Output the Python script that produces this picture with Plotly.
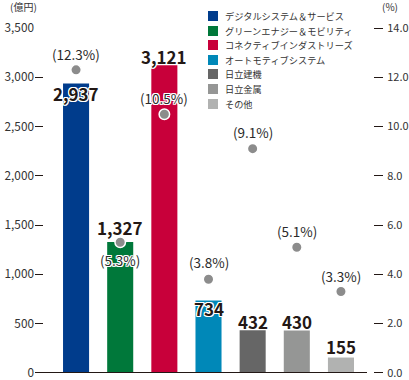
import plotly.graph_objects as go

categories = ["デジタルシステム＆サービス", "グリーンエナジー＆モビリティ", "コネクティブインダストリーズ",
              "オートモティブシステム", "日立建機", "日立金属", "その他"]
values = [2937, 1327, 3121, 734, 432, 430, 155]
margins_pct = [12.3, 5.3, 10.5, 3.8, 9.1, 5.1, 3.3]
left_ticks = [0, 500, 1000, 1500, 2000, 2500, 3000, 3500]
right_ticks = [0, 2, 4, 6, 8, 10, 12, 14]

colors = ["#003C8C", "#00783A", "#C8003A", "#0088B8", "#666666", "#959695", "#B1B2B1"]
value_shift = [-10, 15, 9, -8, 9, 9, 11]
pct_shift = [16, -18, 16, 17, 17, 16, 16]

W, H = 409, 380
ML, MR, MT, MB = 35, 4, 28, 7
PW, PH = W - ML - MR, H - MT - MB


def px(x):
    return (x - ML) / PW


def py(y):
    return (H - MB - y) / PH


FONT = "Noto Sans CJK JP, Noto Sans, sans-serif"
TXT = "#231815"
halo = "1px 1px 0 #fff, -1px -1px 0 #fff, 1px -1px 0 #fff, -1px 1px 0 #fff, 0 1px 0 #fff, 0 -1px 0 #fff, 1px 0 0 #fff, -1px 0 0 #fff"

xs = list(range(len(categories)))
fig = go.Figure()
fig.add_trace(go.Bar(x=xs, y=values, marker=dict(color=colors, line=dict(width=0)),
                     width=0.59, showlegend=False, hoverinfo="skip"))
fig.add_trace(go.Scatter(x=xs, y=margins_pct, yaxis="y2", mode="markers",
                         marker=dict(size=10.5, color="#8C8C8C", line=dict(color="#fff", width=1.5)),
                         showlegend=False, hoverinfo="skip"))

ann = []
for i, v in enumerate(values):
    ann.append(dict(x=i, y=v, xref="x", yref="y", text=f"{v:,}", showarrow=False,
                    yshift=value_shift[i],
                    font=dict(family=FONT, size=17, color=TXT, weight="bold", shadow=halo)))
for i, p in enumerate(margins_pct):
    ann.append(dict(x=i, y=p, xref="x", yref="y2", text=f"({p}%)", showarrow=False,
                    yshift=pct_shift[i],
                    font=dict(family=FONT, size=13.5, color="#2a2a2a", shadow=halo)))

shapes = []
# baseline
shapes.append(dict(type="line", xref="paper", yref="y", x0=0, x1=px(367), y0=0, y1=0,
                   line=dict(color=TXT, width=1.5), layer="above"))
row_y = [16, 31, 45, 60, 74, 89, 104]
for i, name in enumerate(categories):
    y = row_y[i]
    shapes.append(dict(type="rect", xref="paper", yref="paper",
                       x0=px(208), x1=px(218), y0=py(y + 5), y1=py(y - 5),
                       fillcolor=colors[i], line=dict(width=0)))
    ann.append(dict(x=px(223), y=py(y), xref="paper", yref="paper", text=name,
                    showarrow=False, xanchor="left", yanchor="middle",
                    font=dict(family=FONT, size=9.2, color="#333")))

ann.append(dict(x=px(8), y=py(7), xref="paper", yref="paper", text="(億円)", showarrow=False,
                xanchor="left", yanchor="middle", font=dict(family=FONT, size=10, color="#333")))
ann.append(dict(x=px(380), y=py(7), xref="paper", yref="paper", text="(%)", showarrow=False,
                xanchor="left", yanchor="middle", font=dict(family=FONT, size=10, color="#333")))

fig.update_layout(
    width=W, height=H, margin=dict(l=ML, r=MR, t=MT, b=MB),
    paper_bgcolor="#fff", plot_bgcolor="#fff",
    annotations=ann, shapes=shapes, showlegend=False,
    xaxis=dict(domain=[0, px(367)], range=[-0.93, 6.59], showticklabels=False, ticks="",
               showgrid=False, zeroline=False, showline=False, fixedrange=True),
    yaxis=dict(range=[-2, 3500], tickvals=left_ticks, ticktext=[f"{t:,}" for t in left_ticks],
               ticks="inside", ticklen=8, tickwidth=1, tickcolor=TXT, showgrid=False,
               zeroline=False, showline=False, automargin=False, ticklabelstandoff=0,
               ticklabeloverflow="allow",
               tickfont=dict(family=FONT, size=11.8, color="#333")),
    yaxis2=dict(range=[-0.008, 14], overlaying="y", side="right", anchor="free", position=px(373),
                tickvals=right_ticks, ticktext=[f"{t:.1f}" for t in right_ticks],
                ticks="outside", ticklen=9, tickwidth=1, tickcolor=TXT, showgrid=False,
                zeroline=False, showline=False, automargin=False, ticklabelstandoff=2,
                tickfont=dict(family="Liberation Sans Narrow, " + FONT, size=11, color="#333")),
)
fig.write_html("out.html", config={"displayModeBar": False},
               post_script="document.body.style.margin='0';document.body.style.overflow='hidden';")
